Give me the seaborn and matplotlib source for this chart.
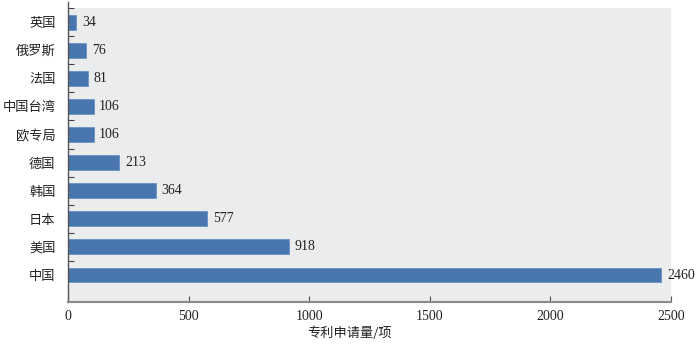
import matplotlib
matplotlib.use("Agg")
import matplotlib.pyplot as plt
import seaborn as sns
import numpy as np
from matplotlib.ticker import FixedLocator

categories = ["英国", "俄罗斯", "法国", "中国台湾", "欧专局", "德国", "韩国", "日本", "美国", "中国"]
values = [34, 76, 81, 106, 106, 213, 364, 577, 918, 2460]
x_ticks = [0, 500, 1000, 1500, 2000, 2500]
x_label = "专利申请量/项"

sns.set_theme(style="white")
plt.rcParams['font.family'] = ['Liberation Serif', 'Noto Sans CJK SC', 'DejaVu Sans']

fig = plt.figure(figsize=(7.0, 3.45), dpi=100)
ax = fig.add_axes([68/700, 1-302/345, (671-68)/700, (302-8)/345])
ax.set_facecolor("#ebeced")

sns.barplot(x=values, y=categories, orient="h", color="#4a76b0", saturation=1,
            width=0.53, ax=ax, edgecolor="#6a90c4", linewidth=0.6)

ax.set_xlim(0, 2500)
ax.set_xticks(x_ticks)
ax.set_ylim(9.96, -0.5)

for c in ax.containers:
    ax.bar_label(c, labels=[str(v) for v in values], padding=4, fontsize=10,
                 family=['Liberation Serif'], color="#222222")

ax.yaxis.set_minor_locator(FixedLocator(np.arange(-0.5, 9.0, 1.0)))
ax.tick_params(axis="y", which="major", length=0, pad=9, labelsize=9.5)
ax.tick_params(axis="y", which="minor", length=4, width=0.8, direction="in", color="#444444", left=True)
ax.tick_params(axis="x", which="major", length=4, width=0.8, direction="in", color="#555555",
               bottom=True, pad=6, labelsize=10)
for lab in ax.get_yticklabels():
    lab.set_family(['Noto Sans CJK SC'])
    lab.set_color("#222222")
for lab in ax.get_xticklabels():
    lab.set_family(['Liberation Serif'])
    lab.set_color("#222222")

ax.set_ylabel("")
ax.set_xlabel(x_label, fontsize=9.5, family=['Noto Sans CJK SC'], color="#222222")
ax.xaxis.set_label_coords((350-68)/(671-68), -0.085)

for s in ["top", "right"]:
    ax.spines[s].set_visible(False)
ax.spines["left"].set_color("#555555")
ax.spines["left"].set_linewidth(1.0)
ax.spines["left"].set_bounds(9.96, -0.72)
ax.spines["bottom"].set_color("#8a8a8a")
ax.spines["bottom"].set_linewidth(1.5)

fig.savefig("out.png", dpi=100, facecolor="white")
